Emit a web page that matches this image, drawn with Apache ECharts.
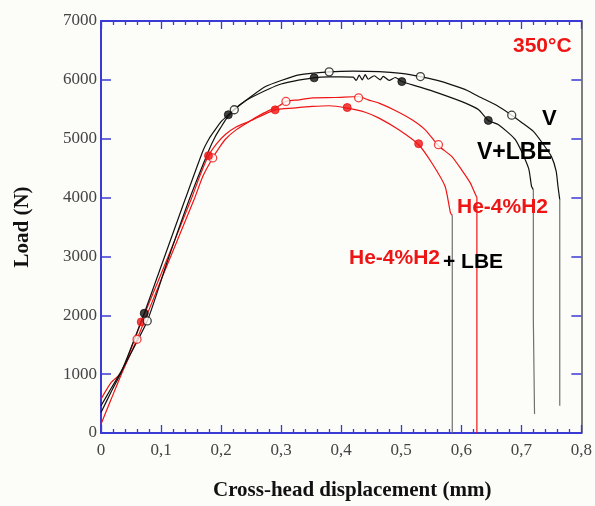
<!DOCTYPE html>
<html>
<head>
<meta charset="utf-8">
<script src="https://cdn.jsdelivr.net/npm/echarts@6/dist/echarts.min.js"></script>
<style>
html,body{margin:0;padding:0;background:#fcfcf9;}
#chart{width:595px;height:506px;}
</style>
</head>
<body>
<div id="chart"></div>
<script>
// ---- data ----
const xTickLabels = ['0','0,1','0,2','0,3','0,4','0,5','0,6','0,7','0,8'];
const yTickLabels = ['0','1000','2000','3000','4000','5000','6000','7000'];

// V (black, open circles)
const vDisp = [0,0.017,0.034,0.077,0.11,0.147,0.18,0.19,0.2,0.208,0.222,0.25,0.274,0.30,0.33,0.38,0.42,0.463,0.50,0.532,0.56,0.584,0.61,0.629,0.66,0.684,0.70,0.72,0.735,0.75,0.758,0.761,0.764];
const vLoad = [463,760,1056,1904,2900,3966,4813,5030,5200,5330,5492,5717,5887,5990,6085,6136,6150,6141,6110,6056,5990,5915,5820,5717,5560,5400,5280,5124,4927,4700,4450,4192,3966];
const vDropDisp = [0.764,0.764];
const vDropLoad = [3966,463];

// V+LBE (black, filled circles)
const vlDisp = [0,0.017,0.034,0.072,0.10,0.14,0.17,0.18,0.19,0.2,0.212,0.23,0.25,0.30,0.356,0.38,0.40,0.42,0.425,0.43,0.435,0.44,0.445,0.455,0.465,0.47,0.48,0.49,0.501,0.53,0.562,0.607,0.629,0.645,0.662,0.69,0.712,0.717,0.72];
const vlLoad = [350,700,1040,2034,2830,3966,4800,5000,5150,5290,5407,5570,5700,5930,6039,6050,6050,6045,5990,6080,6000,6090,6010,6070,6000,6060,5990,6040,5971,5880,5774,5605,5492,5311,5237,4983,4500,4192,4136];
const vlDropDisp = [0.72,0.72,0.722,0.722];
const vlDropLoad = [4136,1930,1930,322];

// He-4%H2 (red, open circles)
const heDisp = [0,0.017,0.034,0.06,0.10,0.155,0.17,0.186,0.197,0.208,0.225,0.247,0.27,0.297,0.308,0.33,0.352,0.39,0.429,0.445,0.463,0.49,0.518,0.54,0.562,0.584,0.60,0.615,0.62,0.626];
const heLoad = [150,576,1000,1593,2600,3966,4370,4673,4850,5000,5150,5294,5430,5560,5633,5661,5695,5700,5717,5660,5605,5480,5322,5150,4881,4700,4480,4249,4136,4000];
const heDropDisp = [0.626,0.626];
const heDropLoad = [4000,0];

// He-4%H2 + LBE (red, filled circles)
const hlDisp = [0,0.017,0.034,0.067,0.10,0.150,0.165,0.179,0.193,0.208,0.225,0.247,0.29,0.32,0.352,0.38,0.41,0.44,0.463,0.496,0.529,0.551,0.573,0.582,0.585];
const hlLoad = [576,859,1028,1887,2700,3966,4380,4712,4920,5080,5200,5294,5490,5520,5548,5560,5520,5450,5350,5152,4898,4588,4192,3740,3700];
const hlDropDisp = [0.585,0.585];
const hlDropLoad = [3700,0];

// markers
const vMarkD = [0.077,0.222,0.38,0.532,0.684];
const vMarkL = [1904,5492,6136,6056,5400];
const vlMarkD = [0.072,0.212,0.355,0.501,0.645];
const vlMarkL = [2034,5407,6034,5971,5311];
const heMarkD = [0.06,0.186,0.308,0.429,0.562];
const heMarkL = [1593,4673,5633,5695,4898];
const hlMarkD = [0.067,0.179,0.29,0.41,0.529];
const hlMarkL = [1887,4712,5490,5530,4915];

// ---- build chart ----
const zip = (a,b) => a.map((v,i) => [v,b[i]]);
const BLUE = '#3a3ad4';
const BLACK = '#111111';
const RED = '#ee1515';
const GRAY = '#707070';
const BG = '#fcfcf9';

function lineSeries(d,l,color,smooth){
  return {type:'line', data:zip(d,l), showSymbol:false, symbol:'none', animation:false,
    smooth: smooth ? 0.2 : false,
    lineStyle:{color:color, width:1.2}, z:3};
}
function markSeries(d,l,color,filled){
  return {type:'scatter', data:zip(d,l), symbol:'circle', symbolSize:8, animation:false, z:5,
    itemStyle: filled ? {color:color, borderColor:color, borderWidth:1}
                      : {color:BG, borderColor:color, borderWidth:1.3}};
}

const chart = echarts.init(document.getElementById('chart'), null, {renderer:'canvas'});
chart.setOption({
  backgroundColor: BG,
  animation:false,
  grid:{left:101, right:12, top:21, bottom:72, containLabel:false},
  xAxis:[{
    type:'value', min:0, max:0.8, interval:0.1, position:'bottom',
    axisLine:{show:true, onZero:false, lineStyle:{color:BLUE, width:2}},
    axisTick:{show:true, inside:true, length:8, lineStyle:{color:BLUE, width:1.3}},
    minorTick:{show:true, splitNumber:5, length:4, lineStyle:{color:BLUE, width:1.3}},
    splitLine:{show:false},
    axisLabel:{show:true, margin:9, color:'#444', fontFamily:'Liberation Serif', fontSize:17,
      formatter:(v)=>xTickLabels[Math.round(v*10)]},
    name:'Cross-head displacement (mm)', nameLocation:'middle', nameGap:47,
    nameTextStyle:{fontFamily:'Liberation Serif', fontWeight:'bold', fontSize:21, color:'#111', padding:[0,0,0,22]}
  },{
    type:'value', min:0, max:0.8, interval:0.1, position:'top',
    axisLine:{show:true, onZero:false, lineStyle:{color:BLUE, width:2}},
    axisTick:{show:true, inside:true, length:8, lineStyle:{color:BLUE, width:1.3}},
    minorTick:{show:true, splitNumber:5, length:4, lineStyle:{color:BLUE, width:1.3}},
    splitLine:{show:false}, axisLabel:{show:false}
  }],
  yAxis:[{
    type:'value', min:0, max:7000, interval:1000, position:'left',
    axisLine:{show:true, onZero:false, lineStyle:{color:BLUE, width:2}},
    axisTick:{show:true, inside:true, length:10, lineStyle:{color:BLUE, width:1.5}},
    splitLine:{show:false},
    axisLabel:{show:true, margin:4, color:'#444', fontFamily:'Liberation Serif', fontSize:17,
      formatter:(v)=>yTickLabels[Math.round(v/1000)]},
    name:'Load (N)', nameLocation:'middle', nameGap:68,
    nameTextStyle:{fontFamily:'Liberation Serif', fontWeight:'bold', fontSize:21, color:'#111'}
  },{
    type:'value', min:0, max:7000, interval:1000, position:'right',
    axisLine:{show:true, onZero:false, lineStyle:{color:'#555', width:1.5}},
    axisTick:{show:true, inside:true, length:10, lineStyle:{color:BLUE, width:1.5}},
    splitLine:{show:false}, axisLabel:{show:false}
  }],
  series:[
    lineSeries(heDisp, heLoad, RED, true),
    lineSeries(heDropDisp, heDropLoad, RED, false),
    lineSeries(hlDisp, hlLoad, RED, true),
    lineSeries(hlDropDisp, hlDropLoad, GRAY, false),
    lineSeries(vDisp, vLoad, BLACK, true),
    lineSeries(vDropDisp, vDropLoad, GRAY, false),
    lineSeries(vlDisp, vlLoad, BLACK, true),
    lineSeries(vlDropDisp, vlDropLoad, GRAY, false),
    markSeries(heMarkD, heMarkL, RED, false),
    markSeries(hlMarkD, hlMarkL, RED, true),
    markSeries(vMarkD, vMarkL, BLACK, false),
    markSeries(vlMarkD, vlMarkL, BLACK, true)
  ],
  graphic:[
    {type:'text', x:513, y:46, z:10, style:{text:'350°C', font:'bold 21px "Liberation Sans", Arial, sans-serif', fill:RED, align:'left', verticalAlign:'middle'}},
    {type:'text', x:542, y:119, z:10, style:{text:'V', font:'bold 22px "Liberation Sans", Arial, sans-serif', fill:'#000', align:'left', verticalAlign:'middle'}},
    {type:'text', x:477, y:153, z:10, style:{text:'V+LBE', font:'bold 23px "Liberation Sans", Arial, sans-serif', fill:'#000', align:'left', verticalAlign:'middle'}},
    {type:'text', x:457, y:207, z:10, style:{text:'He-4%H2', font:'bold 21px "Liberation Sans", Arial, sans-serif', fill:RED, align:'left', verticalAlign:'middle'}},
    {type:'text', x:349, y:258, z:10, style:{text:'He-4%H2', font:'bold 21px "Liberation Sans", Arial, sans-serif', fill:RED, align:'left', verticalAlign:'middle'}},
    {type:'text', x:443, y:262, z:10, style:{text:'+ LBE', font:'bold 21px "Liberation Sans", Arial, sans-serif', fill:'#000', align:'left', verticalAlign:'middle'}}
  ]
});
</script>
</body>
</html>
